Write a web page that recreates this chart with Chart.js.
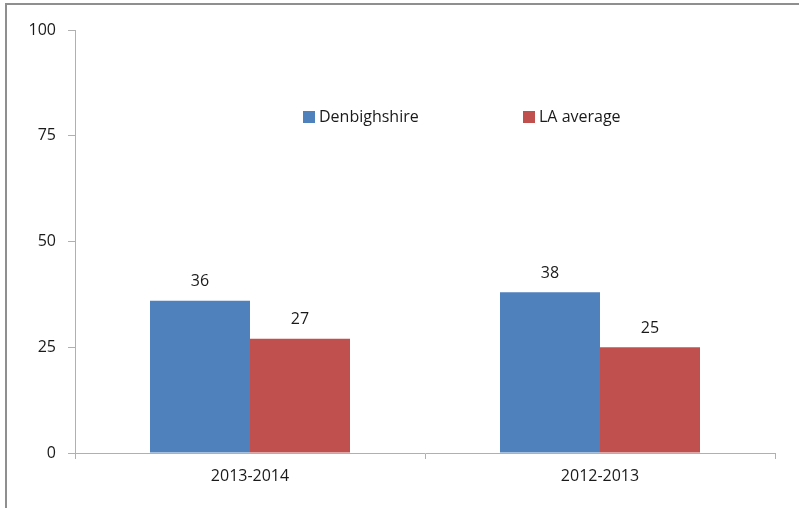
<!doctype html>
<html lang="en">

<head>
    <meta charset="utf-8">
    <title>Denbighshire vs LA average</title>
    <style>
        * {
            margin: 0;
            padding: 0;
        }

        body {
            background: white;
            overflow: hidden;
        }

        .chartBox {
            width: 799px;
            height: 508px;
        }
    </style>
</head>

<body>
    <div class="chartBox">
        <canvas id="myChart"></canvas>
    </div>
    <script src="https://cdn.jsdelivr.net/npm/chart.js"></script>
    <script>
        // data
        const categories = ['2013-2014', '2012-2013']
        const denbighshire = [36, 38]
        const laAverage = [27, 25]
        const yTicks = [0, 25, 50, 75, 100]

        const blue = '#4F81BD'
        const red = '#C0504D'
        const axisColor = '#b0b0b0'
        const textColor = '#1a1a1a'
        const font = { family: 'Open Sans', size: 16 }

        // grey frame along the top and left edge
        const frame = {
            id: 'frame',
            beforeDraw(chart) {
                const { ctx, width, height } = chart
                ctx.save()
                ctx.fillStyle = '#8f8f8f'
                ctx.fillRect(5, 3, width, 2)
                ctx.fillRect(5, 3, 2, height)
                ctx.restore()
            }
        }

        // value above each bar
        const valueLabels = {
            id: 'valueLabels',
            afterDatasetsDraw(chart) {
                const { ctx } = chart
                ctx.save()
                ctx.font = '16px "Open Sans"'
                ctx.fillStyle = textColor
                ctx.textAlign = 'center'
                ctx.textBaseline = 'middle'
                chart.data.datasets.forEach((ds, i) => {
                    chart.getDatasetMeta(i).data.forEach((bar, j) => {
                        ctx.fillText(ds.data[j], bar.x, bar.y - 19)
                    })
                })
                ctx.restore()
            }
        }

        // legend sits inside the plot area
        const innerLegend = {
            id: 'innerLegend',
            afterDraw(chart) {
                const { ctx, chartArea: { left, top } } = chart
                const offsets = [228, 448]
                ctx.save()
                ctx.font = '16px "Open Sans"'
                ctx.textBaseline = 'middle'
                chart.data.datasets.forEach((ds, i) => {
                    const x = left + offsets[i]
                    const y = top + 87
                    ctx.fillStyle = ds.backgroundColor
                    ctx.fillRect(x, y - 6, 12, 12)
                    ctx.fillStyle = textColor
                    ctx.fillText(ds.label, x + 16, y)
                })
                ctx.restore()
            }
        }

        const data = {
            labels: categories,
            datasets: [{
                label: 'Denbighshire',
                data: denbighshire,
                backgroundColor: blue,
                borderWidth: 0
            }, {
                label: 'LA average',
                data: laAverage,
                backgroundColor: red,
                borderWidth: 0
            }]
        }

        const config = {
            type: 'bar',
            data,
            options: {
                responsive: true,
                maintainAspectRatio: false,
                animation: false,
                layout: {
                    padding: { left: 0, top: 30, right: 24, bottom: 0 }
                },
                datasets: {
                    bar: {
                        categoryPercentage: 200 / 350,
                        barPercentage: 1.0
                    }
                },
                plugins: {
                    legend: { display: false },
                    tooltip: { enabled: false }
                },
                scales: {
                    x: {
                        grid: {
                            offset: true,
                            drawOnChartArea: false,
                            tickLength: 6,
                            color: axisColor
                        },
                        border: { color: axisColor },
                        ticks: { color: textColor, font, padding: 8 },
                        afterFit(scale) {
                            scale.height = 55
                        }
                    },
                    y: {
                        min: 0,
                        max: 100,
                        afterBuildTicks(scale) {
                            scale.ticks = yTicks.map(v => ({ value: v }))
                        },
                        grid: {
                            drawOnChartArea: false,
                            tickLength: 7,
                            color: axisColor
                        },
                        border: { color: axisColor },
                        ticks: { color: textColor, font, padding: 12 },
                        afterFit(scale) {
                            scale.width = 75
                        }
                    }
                }
            },
            plugins: [frame, valueLabels, innerLegend]
        }

        const myChart = new Chart(document.getElementById('myChart'), config)
    </script>
</body>

</html>
